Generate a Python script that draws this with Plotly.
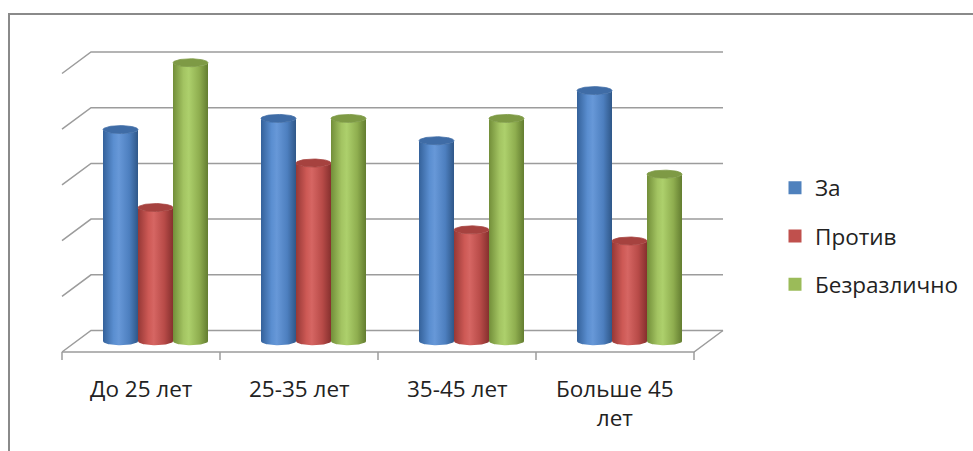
import numpy as np
import plotly.graph_objects as go

# ---- data ----
categories = ["До 25 лет", "25-35 лет", "35-45 лет", "Больше 45<br>лет"]
series_names = ["За", "Против", "Безразлично"]
val_za = [3.8, 4.0, 3.6, 4.5]
val_protiv = [2.4, 3.2, 2.0, 1.8]
val_bezr = [5.0, 4.0, 4.0, 3.0]
grid_ticks = [0, 1, 2, 3, 4, 5]

series_values = [val_za, val_protiv, val_bezr]
base_colors = ["#4F81BD", "#C0504D", "#9BBB59"]
body_scales = [
    ["#34619a", "#5a8ed0", "#6798d8", "#4d7fbf", "#2f5788"],
    ["#963836", "#cd5955", "#d66663", "#b84b48", "#86302e"],
    ["#728e39", "#a3c462", "#add06c", "#8fae4f", "#637d30"],
]
cap_colors = ["#3f6ca6", "#a6423f", "#7e9a45"]

# ---- geometry (in axis units) ----
W, H = 973, 451
X0, XS = 62, 158.0      # pixel of category axis start, pixels per category
Y0, YS = 352, 55.7      # pixel of value 0 (front), pixels per value unit
DX, DY = 29 / XS, 21.5 / YS   # depth offset front -> back wall
BW = 35 / XS            # cylinder diameter
EB = 4 / YS             # ellipse half height
ncat = len(categories)
FONT = "Open Sans"
FS = 22.5

fig = go.Figure()

grid_col = "#9c9c9c"
def line(xs, ys, color=grid_col, width=1.5):
    fig.add_trace(go.Scatter(x=xs, y=ys, mode="lines", line=dict(color=color, width=width),
                             hoverinfo="skip", showlegend=False))

# back wall gridlines and side diagonals
for v in grid_ticks:
    line([0, DX, ncat + DX], [v, v + DY, v + DY])
# floor front edge + right diagonal
line([0, ncat, ncat + DX], [0, 0, DY])
# category tick marks
tk = 8 / YS
for c in range(ncat + 1):
    line([c, c], [0, -tk])

# cylinders
t = np.linspace(0, np.pi, 40)
tt = np.linspace(0, 2 * np.pi, 80)
for c in range(ncat):
    gc = c + 0.5 + DX / 2
    for s in range(3):
        v = series_values[s][c]
        xc = gc + (s - 1) * BW
        xl, xr = xc - BW / 2, xc + BW / 2
        yb = DY / 2
        yt = yb + v
        bx = np.concatenate([xc - BW / 2 * np.cos(t), xc + BW / 2 * np.cos(t)])
        by = np.concatenate([yb - EB * np.sin(t), yt - EB * np.sin(t)])
        sc = body_scales[s]
        fig.add_trace(go.Scatter(
            x=np.append(bx, bx[0]), y=np.append(by, by[0]), mode="lines", fill="toself",
            line=dict(width=0, color=sc[0]),
            fillgradient=dict(type="horizontal", start=xl, stop=xr,
                              colorscale=[[0, sc[0]], [0.3, sc[1]], [0.45, sc[2]],
                                          [0.75, sc[3]], [1, sc[4]]]),
            hoverinfo="skip", showlegend=False))
        fig.add_trace(go.Scatter(
            x=xc + BW / 2 * np.cos(tt), y=yt + EB * np.sin(tt), mode="lines", fill="toself",
            line=dict(width=0.8, color=cap_colors[s]), fillcolor=cap_colors[s],
            hoverinfo="skip", showlegend=False))

# legend entries
for s in range(3):
    fig.add_trace(go.Scatter(x=[None], y=[None], mode="markers", name=series_names[s],
                             marker=dict(color=base_colors[s], symbol="square", size=13),
                             legendgroup=series_names[s]))

# category labels
for c, lab in enumerate(categories):
    fig.add_annotation(x=c + 0.5, y=-36 / YS, text=lab, showarrow=False,
                       xref="x", yref="y", yanchor="middle",
                       font=dict(size=FS, color="#222222", family=FONT),
                       yshift=0 if "<br>" not in lab else -15)

# chart border
fig.add_shape(type="rect", xref="paper", yref="paper",
              x0=9 / W, x1=1.05, y0=-0.05, y1=1 - 14 / H,
              line=dict(color="#8a8a8a", width=2), fillcolor="rgba(0,0,0,0)")

fig.update_layout(
    width=W, height=H,
    margin=dict(l=0, r=0, t=0, b=0),
    paper_bgcolor="white", plot_bgcolor="white",
    xaxis=dict(range=[-X0 / XS, (W - X0) / XS], visible=False, fixedrange=True),
    yaxis=dict(range=[(Y0 - H) / YS, Y0 / YS], visible=False, fixedrange=True),
    showlegend=True,
    legend=dict(x=775 / W, y=1 - 236 / H, xanchor="left", yanchor="middle",
                font=dict(size=FS, color="#222222", family=FONT),
                tracegroupgap=16, bgcolor="rgba(0,0,0,0)"),
    font=dict(family=FONT),
)

fig.write_html("out.html")
